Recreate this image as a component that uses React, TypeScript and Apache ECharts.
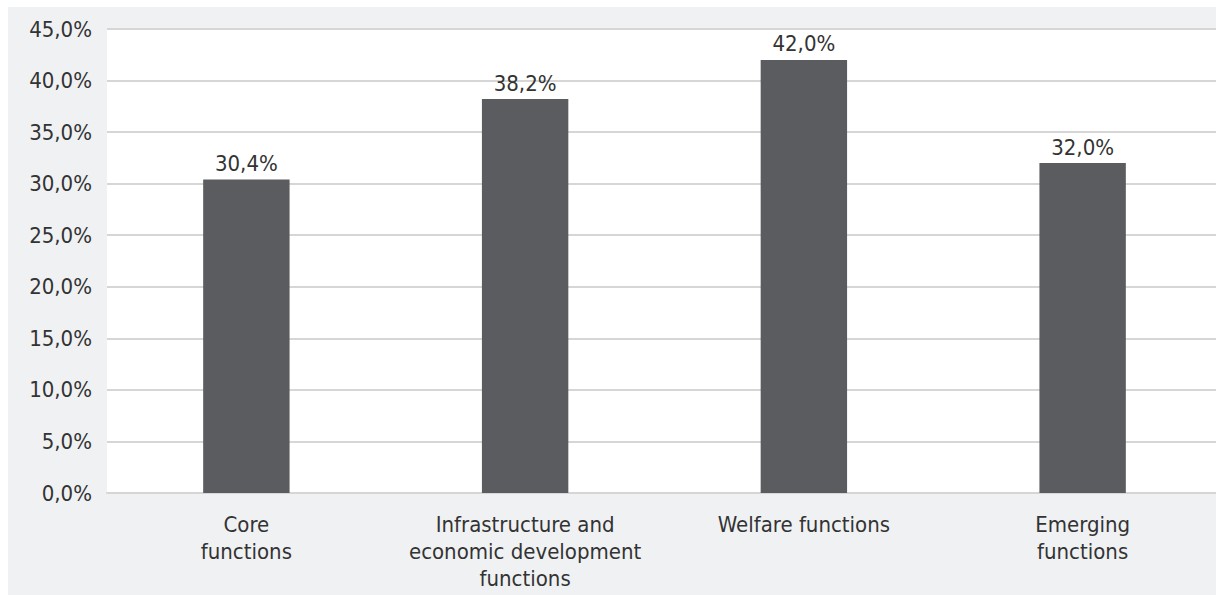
import React, { useEffect, useRef } from "react";
import * as echarts from "echarts";

const categories = [
  "Core\nfunctions",
  "Infrastructure and\neconomic development\nfunctions",
  "Welfare functions",
  "Emerging\nfunctions",
];
const shares = [30.4, 38.2, 42.0, 32.0];
const yMin = 0;
const yMax = 45;
const yStep = 5;

const FONT = "'DejaVu Sans Condensed', 'Liberation Sans', sans-serif";
const fmt = (v: number) => v.toFixed(1).replace(".", ",") + "%";

export default function App() {
  const ref = useRef<HTMLDivElement>(null);
  useEffect(() => {
    if (!ref.current) return;
    const chart = echarts.init(ref.current, null, { renderer: "svg" });
    chart.setOption({
      animation: false,
      backgroundColor: "#f0f1f3",
      textStyle: { fontFamily: FONT },
      grid: {
        left: 99,
        right: 0,
        top: 22,
        bottom: 102,
        show: true,
        backgroundColor: "#ffffff",
        borderWidth: 0,
      },
      xAxis: {
        type: "category",
        data: categories,
        axisLine: { show: true, lineStyle: { color: "#d6d6d6", width: 2 } },
        axisTick: { show: false },
        axisLabel: {
          interval: 0,
          margin: 18,
          color: "#333333",
          fontFamily: FONT,
          fontSize: 22,
          lineHeight: 27,
        },
      },
      yAxis: {
        type: "value",
        min: yMin,
        max: yMax,
        interval: yStep,
        axisLine: { show: false },
        axisTick: { show: false },
        splitLine: { show: true, lineStyle: { color: "#d6d6d6", width: 2 } },
        axisLabel: {
          margin: 15,
          color: "#333333",
          fontFamily: FONT,
          fontSize: 22,
          formatter: (v: number) => fmt(v),
        },
      },
      series: [
        {
          type: "bar",
          data: shares,
          barWidth: "31%",
          itemStyle: { color: "#5b5c60" },
          label: {
            show: true,
            position: "top",
            distance: 5,
            color: "#333333",
            fontFamily: FONT,
            fontSize: 22,
            formatter: (p: any) => fmt(p.value),
          },
        },
      ],
    });
    return () => chart.dispose();
  }, []);
  return (
    <div
      style={{
        position: "absolute",
        left: 8,
        top: 7,
        width: 1208,
        height: 588,
        overflow: "hidden",
      }}
    >
      <div ref={ref} style={{ width: 1214, height: 588 }} />
    </div>
  );
}
